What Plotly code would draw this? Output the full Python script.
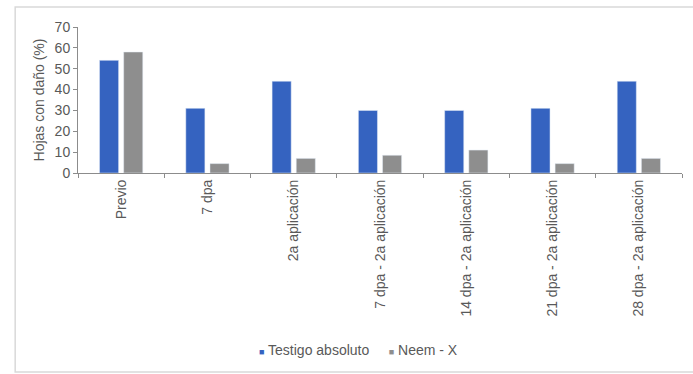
import plotly.graph_objects as go

categorias = ["Previo", "7 dpa", "2a aplicación", "7 dpa - 2a aplicación",
              "14 dpa - 2a aplicación", "21 dpa - 2a aplicación", "28 dpa - 2a aplicación"]
testigo = [54, 31, 44, 30, 30, 31, 44]
neem = [58, 4.5, 7, 8.5, 11, 4.5, 7]
y_ticks = [0, 10, 20, 30, 40, 50, 60, 70]
series = [("Testigo absoluto", testigo, "#3563C0"), ("Neem - X", neem, "#8E8E8E")]

TEXTO = "#595959"
EJE = "#8C8C8C"
FUENTE = "Liberation Sans, Arial, sans-serif"

fig = go.Figure()
for nombre, valores, color in series:
    fig.add_trace(go.Bar(x=categorias, y=valores, marker_color=color, name=nombre))

fig.update_layout(
    width=693, height=374,
    margin=dict(l=78, r=11, t=27, b=201),
    paper_bgcolor="white", plot_bgcolor="white",
    barmode="group", bargap=0.44, bargroupgap=0.21,
    font=dict(family=FUENTE, size=14, color=TEXTO),
    showlegend=False,
    xaxis=dict(type="category", tickangle=-90, showline=True, linecolor=EJE, linewidth=1,
               ticks="outside", tickson="boundaries", ticklen=4, tickcolor=EJE,
               showgrid=False, tickfont=dict(size=14, color=TEXTO)),
    yaxis=dict(range=[0, 70], tickvals=y_ticks, showline=True, linecolor=EJE, linewidth=1,
               ticks="outside", ticklen=4, tickcolor=EJE, showgrid=False, zeroline=False,
               tickfont=dict(size=14, color=TEXTO),
               title=dict(text="Hojas con daño (%)", font=dict(size=14, color=TEXTO), standoff=6)),
)

# legend row: small coloured squares followed by the series names
leyenda = "     ".join(
    f'<span style="color:{color};font-size:9px">■</span> {nombre}' for nombre, _, color in series
)
fig.add_annotation(text=leyenda, xref="paper", yref="paper", x=0.465, y=-1.21,
                   xanchor="center", yanchor="middle", showarrow=False,
                   font=dict(size=14, color=TEXTO, family=FUENTE))

# chart frame
fig.add_shape(type="rect", xref="paper", yref="paper", x0=-0.104, x1=1.1, y0=-1.363, y1=1.137,
              line=dict(color="#D9D9D9", width=1.5), fillcolor="rgba(0,0,0,0)", layer="below")

fig.write_html("out.html")
